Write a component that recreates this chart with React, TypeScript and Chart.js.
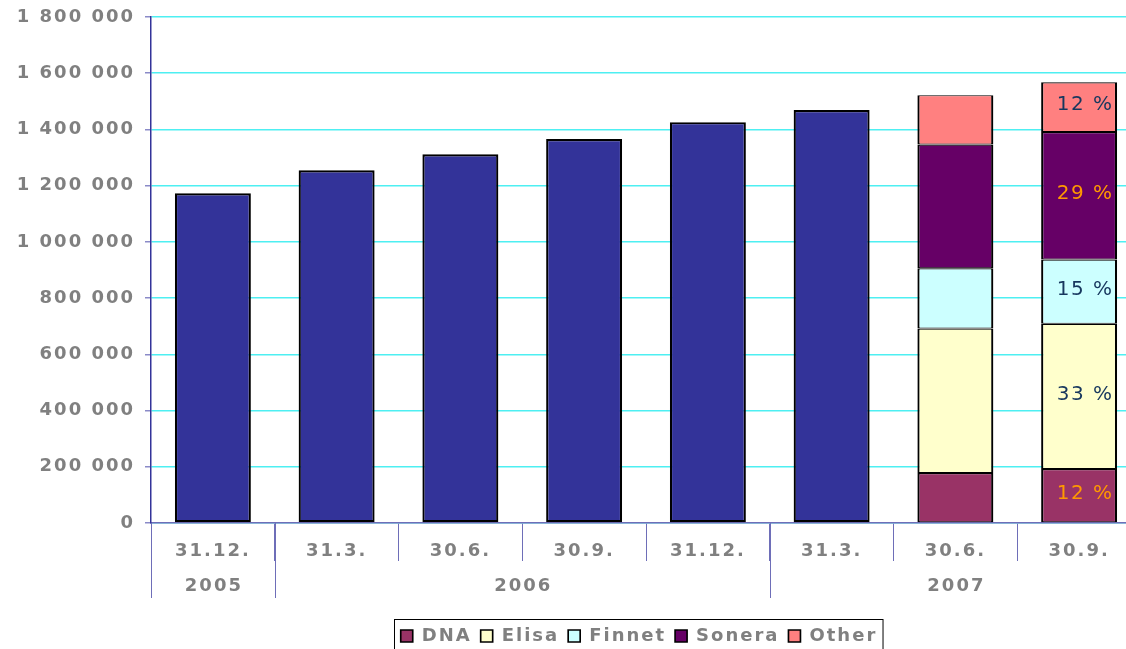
import React, { useEffect, useRef } from "react";
import { Chart, registerables } from "chart.js";

Chart.register(...registerables);

const categories = ["31.12.", "31.3.", "30.6.", "30.9.", "31.12.", "31.3.", "30.6.", "30.9."];
const yearLabels = ["2005", "2006", "2007"];
const yearSpans = [1, 4, 3];

const totalSubscribers = [1173000, 1255000, 1312000, 1366000, 1426000, 1469000, null, null];
const dnaValues = [null, null, null, null, null, null, 178000, 192000];
const elisaValues = [null, null, null, null, null, null, 514000, 517000];
const finnetValues = [null, null, null, null, null, null, 214000, 228000];
const soneraValues = [null, null, null, null, null, null, 440000, 454000];
const otherValues = [null, null, null, null, null, null, 176000, 177000];

const shareLabels = ["12 %", "33 %", "15 %", "29 %", "12 %"];
const shareColors = ["#FF9900", "#17375E", "#17375E", "#FF9900", "#17375E"];

const yTicks = [0, 200000, 400000, 600000, 800000, 1000000, 1200000, 1400000, 1600000, 1800000];

const FONT = "'DejaVu Sans', Verdana, sans-serif";
const GREY = "#808080";
const AXIS = "#6E6EB8";

function fmt(v: number) {
  return String(v).replace(/\B(?=(\d{3})+(?!\d))/g, " ");
}

const spacingPlugin = {
  id: "spacing",
  beforeUpdate(chart: any) {
    (chart.ctx as any).letterSpacing = "2px";
  },
  beforeDraw(chart: any) {
    (chart.ctx as any).letterSpacing = "2px";
  },
  afterLayout(chart: any) {
    const lg = chart.legend;
    if (lg) {
      lg.left -= 7;
      lg.right -= 7;
    }
  },
};

const decoPlugin = {
  id: "deco",
  afterDraw(chart: any) {
    const ctx = chart.ctx;
    const xs = chart.scales.x;
    const area = chart.chartArea;
    const step = (xs.right - xs.left) / categories.length;
    ctx.save();
    (ctx as any).letterSpacing = "2px";
    ctx.strokeStyle = AXIS;
    ctx.lineWidth = 1;
    let idx = 0;
    const bounds: number[] = [idx];
    yearSpans.forEach((s) => {
      idx += s;
      bounds.push(idx);
    });
    bounds.forEach((b) => {
      const x = Math.round(xs.left + b * step) + 0.5;
      ctx.beginPath();
      ctx.moveTo(x, area.bottom);
      ctx.lineTo(x, area.bottom + 75);
      ctx.stroke();
    });
    ctx.fillStyle = GREY;
    ctx.font = "bold 18px " + FONT;
    ctx.textAlign = "center";
    ctx.textBaseline = "middle";
    yearLabels.forEach((y, i) => {
      const cx = xs.left + ((bounds[i] + bounds[i + 1]) / 2) * step;
      ctx.fillText(y, cx + 1, area.bottom + 63);
    });
    ctx.font = "20px " + FONT;
    (ctx as any).letterSpacing = "1.5px";
    for (let k = 1; k <= 5; k++) {
      const meta = chart.getDatasetMeta(k);
      const el: any = meta.data[7];
      if (!el) continue;
      const cy = (el.y + el.base) / 2;
      ctx.fillStyle = shareColors[k - 1];
      ctx.fillText(shareLabels[k - 1], el.x + 6, cy - 2);
    }
    const lg = chart.legend;
    if (lg && lg.legendHitBoxes && lg.legendHitBoxes.length) {
      const hb = lg.legendHitBoxes;
      const l = hb[0].left - 7;
      const r = hb[hb.length - 1].left + hb[hb.length - 1].width + 5;
      const t = hb[0].top - 8;
      ctx.strokeStyle = "#000";
      ctx.lineWidth = 1;
      ctx.strokeRect(Math.round(l) + 0.5, Math.round(t) + 0.5, r - l, 60);
    }
    ctx.restore();
  },
};

export default function App() {
  const ref = useRef<HTMLCanvasElement | null>(null);
  useEffect(() => {
    if (!ref.current) return;
    const mk = (label: string, data: any[], color: string, bw: any) => ({
      label,
      data,
      backgroundColor: color,
      borderColor: "#000",
      borderWidth: bw,
      borderSkipped: false,
      categoryPercentage: 0.614,
      barPercentage: 1,
      stack: "s",
    });
    const seg = { top: 1.2, bottom: 1, left: 2.2, right: 2.2 };
    const chart = new Chart(ref.current, {
      type: "bar",
      data: {
        labels: categories,
        datasets: [
          mk("Total", totalSubscribers, "#333399", 2.2),
          mk("DNA", dnaValues, "#993366", seg),
          mk("Elisa", elisaValues, "#FFFFCC", seg),
          mk("Finnet", finnetValues, "#CCFFFF", seg),
          mk("Sonera", soneraValues, "#660066", seg),
          mk("Other", otherValues, "#FF8080", seg),
        ] as any,
      },
      options: {
        animation: false,
        responsive: true,
        maintainAspectRatio: false,
        layout: { padding: { top: 17, right: 9, left: 0, bottom: 0 } },
        plugins: {
          tooltip: { enabled: false },
          legend: {
            position: "bottom",
            fullSize: false,
            labels: {
              filter: (item: any) => item.datasetIndex !== 0,
              boxWidth: 12,
              boxHeight: 12,
              padding: 9,
              color: GREY,
              font: { family: FONT, size: 18, weight: "bold" },
            },
          },
        },
        scales: {
          x: {
            stacked: true,
            offset: true,
            grid: {
              offset: true,
              drawOnChartArea: false,
              drawTicks: true,
              tickLength: 38,
              color: AXIS,
              tickColor: AXIS,
            },
            border: { color: AXIS, width: 1.5 },
            ticks: {
              color: GREY,
              padding: -20,
              font: { family: FONT, size: 18, weight: "bold" },
              maxRotation: 0,
            },
            afterFit: (s: any) => {
              s.height = 95;
              s.paddingLeft = 0;
              s.paddingRight = 0;
            },
          },
          y: {
            stacked: true,
            min: 0,
            max: 1800000,
            afterBuildTicks: (s: any) => {
              s.ticks = yTicks.map((v) => ({ value: v }));
            },
            grid: {
              color: "#4EEFF2",
              lineWidth: 1.5,
              tickLength: 6,
              tickColor: "#8A8AC8",
            },
            border: { color: "#333399", width: 1.5 },
            ticks: {
              color: GREY,
              padding: 10,
              font: { family: FONT, size: 18, weight: "bold" },
              callback: (v: any) => fmt(Number(v)),
            },
            afterFit: (s: any) => {
              s.width = 151;
              s.paddingTop = 0;
              s.paddingBottom = 0;
            },
          },
        },
      },
      plugins: [spacingPlugin, decoPlugin],
    });
    return () => chart.destroy();
  }, []);
  return (
    <div
      style={{
        position: "fixed",
        left: 0,
        top: 0,
        width: 1126,
        height: 649,
        overflow: "hidden",
        background: "#fff",
      }}
    >
      <div style={{ position: "relative", width: 1150, height: 655 }}>
        <canvas ref={ref} />
      </div>
    </div>
  );
}
